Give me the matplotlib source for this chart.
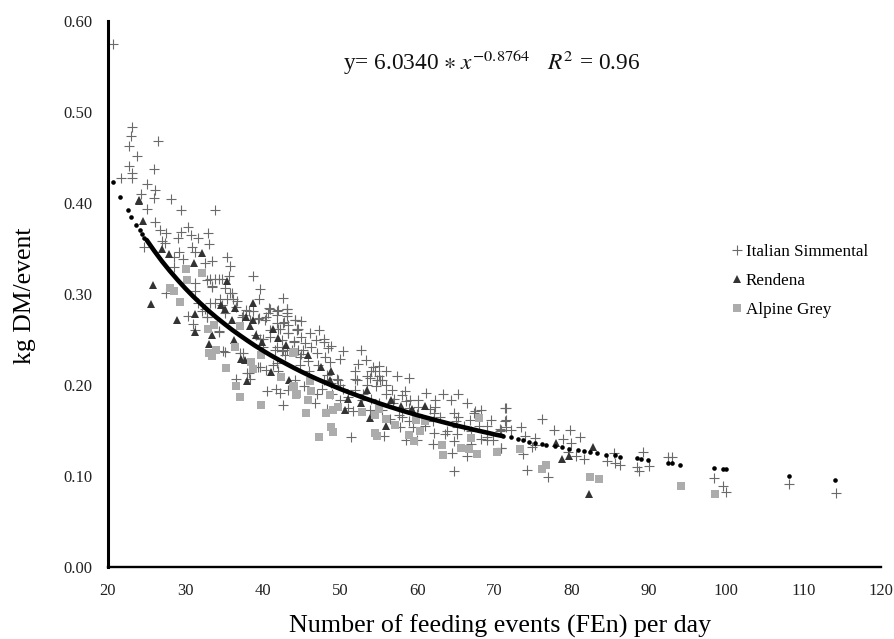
import matplotlib
matplotlib.use('Agg')
from matplotlib import pyplot as plt

# values (x = FEn per day, y = kg DM/event)
sim_x = [20.6, 23.1, 23.0, 22.7, 26.5, 23.75, 22.7, 26.0, 23.1, 21.7, 23.1, 25.0, 26.1, 24.3, 26.0, 28.1, 25.0, 29.4, 33.8,
         26.1, 30.3, 26.7, 27.5, 29.5, 30.7, 32.9, 29.1, 31.7, 27.0, 27.4, 33.1, 24.7, 30.9, 29.2, 31.3, 29.7, 28.5, 35.4, 33.5, 32.6,
         35.8, 28.6, 38.8, 33.2, 34.3, 35.6, 31.3, 33.4, 39.7, 35.1, 42.7, 27.5, 31.3, 35.8, 39.5, 34.5, 36.7, 31.7, 40.8, 43.1,
         41.8, 38.2, 40.5, 39.5, 37.5, 30.4, 32.8, 42.8, 44.2, 31.0, 44.6, 34.3, 31.3, 42.0, 41.0, 43.3, 39.7, 44.0, 41.8, 43.1,
         35.1, 37.1, 39.6, 41.4, 38.0, 36.6, 44.2, 40.6, 41.7, 42.3, 42.6, 43.3, 42.9, 41.8, 40.1, 44.6,
         44.2, 45.0, 44.5, 46.1, 47.3, 45.0, 48.0, 44.0, 45.5, 46.9, 47.9, 48.9, 45.2, 48.4, 46.3, 50.4, 52.7, 50.0, 53.4, 44.8,
         45.9, 48.7, 52.3, 55.0, 54.3, 47.2, 56.0, 57.4, 58.9, 51.9, 52.0, 53.5, 54.5, 53.9, 54.8, 49.6, 48.3, 45.3, 47.7, 46.8,
         52.2, 50.4, 54.7, 56.0, 56.7, 58.4, 58.0, 61.2, 63.3, 65.3, 64.4, 66.4, 62.3, 60.1, 59.1, 62.3, 62.2, 64.7, 65.3, 67.3,
         68.3, 67.5, 71.5, 71.5, 69.5, 66.8, 70.7, 69.0, 65.2, 62.2, 63.6, 64.7, 64.5, 66.4, 64.7, 70.9, 51.4, 55.7, 58.5, 57.8,
         59.5, 53.9, 58.6, 51.7, 48.3, 56.9, 61.6, 60.1, 53.5, 55.2, 51.1, 48.9, 49.8, 50.0, 52.8, 55.4, 56.5, 57.6, 69.0, 65.1,
         63.8, 70.7, 69.8, 68.3,
         98.4, 99.6, 100.0, 108.1, 114.2, 89.2, 92.4, 93.0, 88.4, 88.7, 90.0, 85.6, 85.5, 84.5, 86.2, 81.6, 80.6, 79.5, 79.9, 78.9,
         81.0, 79.8, 77.7, 76.1, 73.4, 71.4, 71.4, 72.1, 70.9, 71.5, 73.9, 75.2, 74.8, 75.3, 73.7, 70.9, 74.2, 76.9,
         34.7, 33.8, 33.4, 32.8, 36.0, 35.4, 36.2, 33.2, 41.0, 42.0, 43.2, 40.7, 41.9, 43.2, 39.4, 37.9, 40.3, 37.3, 41.8, 43.3,
         32.8, 34.3, 41.0, 44.4, 42.2, 43.3, 42.5, 41.6, 42.7, 43.8, 40.1, 39.2, 34.9, 37.5, 39.4, 38.2, 38.4, 42.0, 40.5, 36.6,
         34.7, 35.1, 33.8, 32.5, 32.1, 38.8, 38.4, 43.1, 42.7, 42.5, 48.1, 45.0, 44.8,
         54.0, 55.0, 55.5, 56.0, 53.0, 54.0, 57.0, 59.0, 60.0, 62.0, 63.0, 65.0, 66.0, 67.0, 68.0, 67.0, 60.0, 62.0, 69.0, 61.0,
         58.0, 59.0, 55.0, 52.0, 50.0, 51.0, 49.0, 47.0, 48.0, 46.0, 47.0]
sim_y = [.575, .483, .474, .463, .468, .452, .441, .437, .433, .428, .427, .421, .414, .410, .406, .404, .393, .392, .392,
         .379, .374, .370, .367, .368, .365, .367, .361, .362, .358, .356, .355, .352, .352, .346, .346, .338, .341, .341, .336, .334,
         .331, .330, .320, .317, .316, .320, .312, .308, .305, .307, .296, .301, .303, .301, .295, .295, .292, .290, .285, .284,
         .281, .281, .275, .274, .277, .276, .275, .269, .271, .267, .262, .258, .260, .262, .253, .257, .251, .248, .242, .238,
         .236, .235, .220, .222, .213, .207, .206, .193, .196, .191, .178, .194, .233, .224, .242, .238,
         .271, .270, .262, .257, .260, .253, .251, .247, .246, .249, .247, .243, .238, .241, .242, .237, .238, .229, .227, .231,
         .226, .225, .223, .221, .220, .222, .215, .210, .208, .215, .207, .210, .215, .208, .205, .207, .211, .199, .196, .180,
         .205, .196, .199, .200, .195, .193, .189, .191, .190, .190, .183, .180, .183, .183, .183, .176, .169, .169, .165, .169,
         .172, .171, .175, .161, .161, .161, .152, .140, .146, .147, .146, .138, .125, .122, .106, .131, .143, .144, .140, .154,
         .154, .173, .182, .171, .174, .180, .174, .176, .200, .205, .187, .202, .205, .183, .183, .173, .163, .167, .143, .154,
         .149, .149, .140, .141,
         .0981, .089, .0824, .0916, .0817, .1264, .1205, .1205, .1099, .1055, .1106, .1146, .1249, .1168, .1121, .119, .122, .1268, .1366, .1406,
         .1433, .1505, .1502, .1622, .1542, .1743, .1604, .1505, .1505, .1542, .1443, .1414, .1322, .1341, .1242, .1304, .1069, .0989,
         .317, .316, .309, .315, .301, .295, .295, .290, .284, .282, .284, .279, .277, .276, .273, .282, .271, .275, .268, .266,
         .275, .259, .260, .260, .261, .257, .250, .238, .238, .239, .251, .255, .237, .235, .220, .213, .207, .215, .217, .286,
         .288, .279, .290, .284, .281, .281, .271, .279, .268, .237, .231, .234, .222,
         .215, .210, .205, .190, .190, .185, .185, .175, .168, .160, .165, .160, .155, .150, .155, .135, .140, .135, .155, .155,
         .165, .160, .180, .195, .200, .175, .190, .190, .205, .215, .235]

ren_x = [24.05, 24.0, 24.5, 27.0, 27.9, 32.2, 31.1, 35.4, 25.8, 25.6, 34.6, 35.1, 36.4, 38.7, 28.9, 31.2, 31.2, 33.5, 33.1,
         37.8, 36.0, 38.7, 38.4, 39.1, 41.3, 42.0, 43.0, 39.9, 36.3, 37.2, 37.7, 41.1, 38.0, 43.4,
         45.9, 47.5, 48.8, 48.7, 53.5, 56.6, 57.9, 59.3, 61.0, 51.1, 50.7, 52.7, 55.9, 53.9, 78.0, 82.7, 78.7, 79.6, 82.2]
ren_y = [.403, .402, .380, .350, .344, .345, .334, .314, .310, .289, .288, .284, .285, .290, .271, .278, .258, .255, .245,
         .275, .271, .271, .265, .255, .262, .252, .244, .247, .249, .229, .228, .214, .204, .206,
         .233, .220, .215, .206, .194, .183, .177, .174, .177, .185, .172, .180, .155, .164, .1359, .1315, .1183, .1223, .0806]

grey_x = [30.1, 32.2, 30.2, 28.0, 28.5, 29.3, 32.9, 33.7, 37.1, 36.4, 34.0, 33.1, 33.4, 35.3, 39.8, 38.5, 38.7, 42.4, 43.9, 43.9, 44.4, 36.5, 37.1, 39.8,
          44.0, 46.1, 46.2, 44.3, 45.9, 48.7, 45.6, 48.2, 49.8, 49.1, 48.8, 49.1, 47.3, 52.9, 54.5, 56.0, 55.0, 57.1, 59.9, 61.0, 60.4, 54.5, 54.8, 59.0, 59.6,
          63.2, 63.3, 65.7, 66.7, 67.7, 70.3, 68.0, 67.0, 44.0, 73.3, 76.6, 76.2, 82.3, 83.5, 94.1, 98.5]
grey_y = [.327, .323, .315, .307, .303, .291, .261, .266, .265, .242, .238, .235, .232, .219, .233, .225, .218, .209, .235, .198, .190, .199, .187, .178,
          .236, .204, .193, .189, .184, .189, .169, .169, .176, .173, .154, .148, .143, .170, .167, .163, .174, .156, .161, .160, .150, .147, .144, .145, .138,
          .134, .123, .131, .130, .124, .126, .164, .142, .199, .130, .1117, .1073, .0989, .0969, .0887, .0806]

# fitted curve, dense part drawn as a thick line
curve_x = [25, 26, 27, 28, 29, 30, 31, 32, 33, 34, 35, 36, 37, 38, 39, 40, 41, 42, 43, 44, 45, 46, 47, 48,
           49, 50, 51, 52, 53, 54, 55, 56, 57, 58, 59, 60, 61, 62, 63, 64, 65, 66, 67, 68, 69, 70, 71]
curve_y = [.3593, .3472, .3358, .3253, .3155, .3062, .2975, .2894, .2816, .2744, .2676, .2610, .2549, .2490, .2433, .2380,
           .2329, .2281, .2235, .2190, .2147, .2106, .2067, .2030, .1993, .1958, .1925, .1893, .1861, .1831, .1801, .1773,
           .1746, .1719, .1694, .1669, .1646, .1623, .1600, .1578, .1556, .1536, .1516, .1496, .1477, .1457, .1440]
# fitted curve, the separate dots at both ends
dots_x = [20.6, 21.6, 22.6, 23.0, 23.6, 24.1, 24.4, 24.7,
          71.1, 72.1, 73.1, 73.7, 74.5, 75.2, 76.1, 76.7, 77.8, 78.7, 79.6, 80.8, 81.6, 82.4, 83.2, 84.4, 85.6, 86.2,
          88.4, 89.0, 89.9, 92.4, 92.9, 94.0, 98.4, 99.5, 99.9, 108.1, 114.1]
dots_y = [.423, .407, .392, .385, .376, .370, .366, .362,
          .144, .1428, .1407, .1396, .1377, .1363, .1355, .1346, .1333, .1315, .1302, .1286, .1275, .1267, .1250, .1234, .1227, .1212,
          .1194, .1183, .1176, .1143, .1143, .1124, .1084, .1073, .1073, .100, .0952]

x_ticks = list(range(20, 121, 10))
y_ticks = [0.0, 0.1, 0.2, 0.3, 0.4, 0.5, 0.6]

plt.rcParams['font.family'] = ['Liberation Serif', 'DejaVu Serif']
plt.rcParams['mathtext.fontset'] = 'stix'

W, H = 894, 639
fig = plt.figure(figsize=(W / 100, H / 100), dpi=100)
ax = fig.add_axes([108 / W, 1 - 567 / H, (881 - 108) / W, (567 - 21) / H])

ax.plot(sim_x, sim_y, ls='none', marker='+', ms=6.5, mew=0.8, color='#6a6a6a', label='Italian Simmental')
ax.plot(ren_x, ren_y, ls='none', marker='^', ms=6, mew=0, color='#333333', label='Rendena')
ax.plot(grey_x, grey_y, ls='none', marker='s', ms=6.3, mew=0, color='#acacac', label='Alpine Grey')
ax.plot(curve_x, curve_y, color='black', lw=3.3, solid_capstyle='round')
ax.plot(dots_x, dots_y, ls='none', marker='o', ms=3.3, mew=0, color='black')

ax.set_xlim(20, 120)
ax.set_ylim(0, 0.6)
ax.set_xticks(x_ticks)
ax.set_yticks(y_ticks)
ax.set_yticklabels(['%.2f' % v for v in y_ticks])
ax.tick_params(length=0, labelsize=12, colors='#222222')
ax.tick_params(axis='y', pad=11.5)
ax.tick_params(axis='x', pad=11.5)

for side in ['top', 'right']:
    ax.spines[side].set_visible(False)
ax.spines['left'].set_linewidth(2.2)
ax.spines['bottom'].set_linewidth(1.7)

ax.set_xlabel('Number of feeding events (FEn) per day', fontsize=18.7)
ax.xaxis.set_label_coords(0.507, -0.088)
ax.set_ylabel('kg DM/event', fontsize=18.5)
ax.yaxis.set_label_coords(-0.093, 0.496)

fig.text(343 / W, 1 - 62 / H, r'y= 6.0340 $\ast\; x^{-0.8764}$   $R^2$ = 0.96', fontsize=16.8,
         va='center', ha='left', color='#111111')

ax.legend(loc='upper left', bbox_to_anchor=(0.804, 0.592), frameon=False, fontsize=12.3,
          handletextpad=0.05, handlelength=0.9, labelspacing=0.777, borderpad=0, borderaxespad=0)

fig.savefig('out.png', dpi=100)
